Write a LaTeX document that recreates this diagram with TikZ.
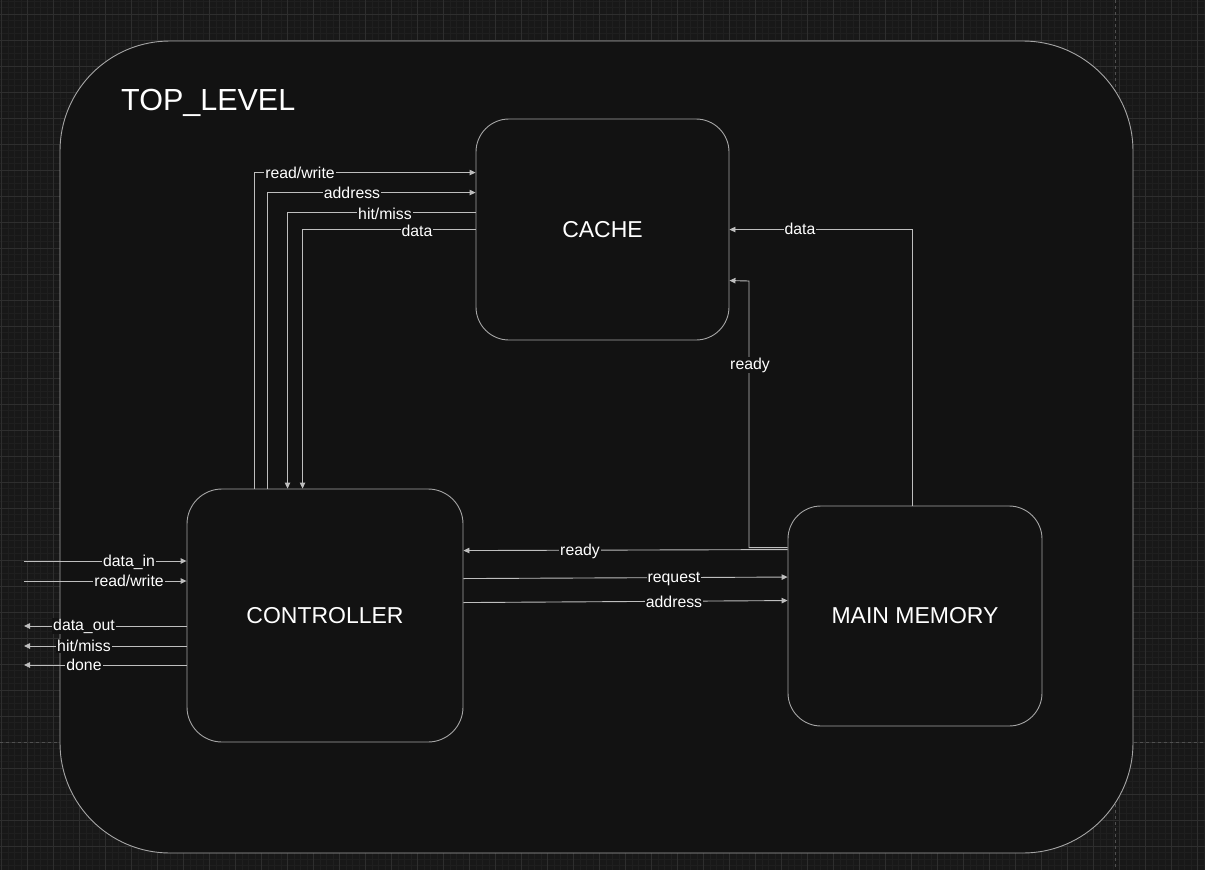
\documentclass[tikz,border=0pt]{standalone}
\usepackage{fontspec}
\setmainfont{Liberation Sans}
\usetikzlibrary{arrows.meta,calc}
\definecolor{bgc}{RGB}{24,24,24}
\definecolor{gmin}{RGB}{31,31,31}
\definecolor{gmaj}{RGB}{46,46,46}
\definecolor{pagec}{RGB}{80,80,80}
\definecolor{fillc}{RGB}{18,18,18}
\definecolor{strk}{RGB}{165,165,165}
\definecolor{wirec}{RGB}{190,190,190}
\tikzset{
  blockbox/.style={draw=strk, line width=0.9pt, fill=fillc, inner sep=0pt,
    text=white, font=\fontsize{23}{23}\selectfont},
  wire/.style={draw=wirec, line width=0.9pt, -{Triangle[length=6pt,width=5.5pt]}},
  lbl/.style={fill=fillc, inner sep=1pt, text=white, font=\fontsize{15.8}{15.8}\selectfont},
}
\begin{document}
\begin{tikzpicture}[x=1pt,y=-1pt]
\useasboundingbox (0,0) rectangle (1205,870);
\begin{scope}
\clip (0,0) rectangle (1205,870);
\fill[bgc] (0,0) rectangle (1205,870);
\foreach \k in {-1,...,185} \draw[gmin, line width=0.5pt] ({1.3+6.5*\k},0) -- ({1.3+6.5*\k},870);
\foreach \k in {0,...,134} \draw[gmin, line width=0.5pt] (0,{1+6.5*\k}) -- (1205,{1+6.5*\k});
\foreach \k in {0,...,46} \draw[gmaj, line width=0.7pt] ({1.3+26*\k},0) -- ({1.3+26*\k},870);
\foreach \k in {-1,...,33} \draw[gmaj, line width=0.7pt] (0,{14+26*\k}) -- (1205,{14+26*\k});
\draw[pagec, line width=0.8pt, dash pattern=on 3pt off 3pt] (1115,0) -- (1115,870);
\draw[pagec, line width=0.8pt, dash pattern=on 3pt off 3pt] (0,742) -- (1205,742);
\end{scope}

% top level container
\node[blockbox, rounded corners=110pt, minimum width=1073pt, minimum height=812pt] (top) at (596.5,447) {};
\node[anchor=base west, inner sep=0pt, text=white, font=\fontsize{30.5}{30.5}\selectfont] (toplbl) at (121,110) {TOP\_LEVEL};

% blocks
\node[blockbox, rounded corners=33pt, minimum width=253pt, minimum height=221pt] (cache) at (602.5,229.5) {CACHE};
\node[blockbox, rounded corners=35pt, minimum width=276pt, minimum height=253pt] (ctrl) at (325,615.5) {CONTROLLER};
\node[blockbox, rounded corners=33pt, minimum width=254pt, minimum height=220pt] (mem) at (915,616) {MAIN MEMORY};

% controller <-> cache
\draw[wire] ($(ctrl.north west)+(68,0)$) |- ($(cache.north west)+(0,54)$);
\draw[wire] ($(ctrl.north west)+(81,0)$) |- ($(cache.north west)+(0,74)$);
\draw[wire] ($(cache.north west)+(0,94)$) -| ($(ctrl.north west)+(101,0)$);
\draw[wire] ($(cache.north west)+(0,111)$) -| ($(ctrl.north west)+(116,0)$);
\node[lbl] (l1) at (300,173) {read/write};
\node[lbl] (l2) at (352,193) {address};
\node[lbl] (l3) at (385,214) {hit/miss};
\node[lbl] (l4) at (417,231) {data};

% memory -> cache
\draw[wire] ($(mem.north west)+(125,0)$) |- ($(cache.north east)+(0,111)$);
\node[lbl] (l5) at (800,229) {data};
\draw[wire] ($(mem.north west)+(0,42)$) -| (749,281) -- ($(cache.north east)+(0,162)$);
\node[lbl] (l6) at (750,365) {ready};

% memory <-> controller
\draw[wire] ($(mem.north west)+(0,44)$) -- ($(ctrl.north east)+(0,62)$);
\node[lbl] (l7) at (580,551) {ready};
\draw[wire] ($(ctrl.north east)+(0,90)$) -- ($(mem.north west)+(0,71.5)$);
\node[lbl] (l8) at (674,579) {request};
\draw[wire] ($(ctrl.north east)+(0,114)$) -- ($(mem.north west)+(0,95)$);
\node[lbl] (l9) at (674,602) {address};

% external I/O
\coordinate (in1) at (24,561);
\coordinate (in2) at (24,581);
\coordinate (out1) at (24,626);
\coordinate (out2) at (24,646);
\coordinate (out3) at (24,665);
\draw[wire] (in1) -- (in1 -| ctrl.west);
\draw[wire] (in2) -- (in2 -| ctrl.west);
\draw[wire] (out1 -| ctrl.west) -- (out1);
\draw[wire] (out2 -| ctrl.west) -- (out2);
\draw[wire] (out3 -| ctrl.west) -- (out3);
\node[lbl] (l10) at (129,562) {data\_in};
\node[lbl] (l11) at (129,581) {read/write};
\node[lbl] (l12) at (84,626) {data\_out};
\node[lbl] (l13) at (84,646) {hit/miss};
\node[lbl] (l14) at (84,665) {done};
\end{tikzpicture}
\end{document}
